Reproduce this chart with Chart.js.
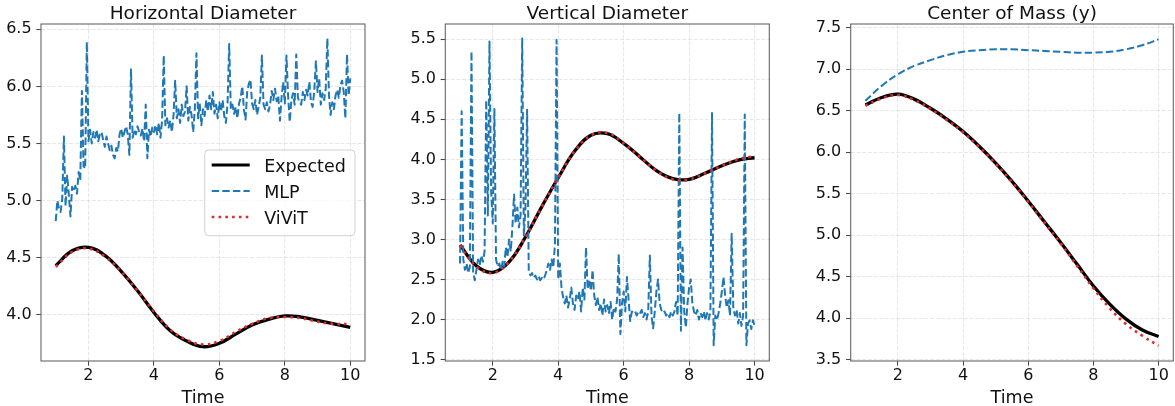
<!DOCTYPE html>
<html><head><meta charset="utf-8">
<script src="https://cdn.jsdelivr.net/npm/chart.js@4.4.1/dist/chart.umd.min.js"></script>
<style>
html,body{margin:0;padding:0;background:#fff;}
#wrap{position:relative;width:1175px;height:406px;overflow:hidden;background:#fff;}
canvas{position:absolute;left:0;top:0;}
</style></head><body>
<div id="wrap">
<canvas id="c1" width="1175" height="406"></canvas>
<canvas id="c2" width="1175" height="406"></canvas>
<canvas id="c3" width="1175" height="406"></canvas>
</div>
<script>
// ---------------- DATA ----------------
const titles = ["Horizontal Diameter", "Vertical Diameter", "Center of Mass (y)"];
const xLabel = "Time";
const legendLabels = ["Expected", "MLP", "ViViT"];
const xTickValues = [2, 4, 6, 8, 10];
const yTicksH = [4.0, 4.5, 5.0, 5.5, 6.0, 6.5];
const yTicksV = [1.5, 2.0, 2.5, 3.0, 3.5, 4.0, 4.5, 5.0, 5.5];
const yTicksC = [3.5, 4.0, 4.5, 5.0, 5.5, 6.0, 6.5, 7.0, 7.5];

const timeSmooth = [1, 1.5, 2, 2.5, 3, 3.5, 4, 4.5, 5, 5.5, 6, 6.5, 7, 7.5, 8, 8.5, 9, 9.5, 10];
const timeNoisy = [
 1.00,1.05,1.10,1.15,1.20,1.25,1.30,1.35,1.40,1.45,1.50,1.55,1.60,1.65,1.70,1.75,1.80,1.85,1.90,1.95,
 2.00,2.05,2.10,2.15,2.20,2.25,2.30,2.35,2.40,2.45,2.50,2.55,2.60,2.65,2.70,2.75,2.80,2.85,2.90,2.95,
 3.00,3.05,3.10,3.15,3.20,3.25,3.30,3.35,3.40,3.45,3.50,3.55,3.60,3.65,3.70,3.75,3.80,3.85,3.90,3.95,
 4.00,4.05,4.10,4.15,4.20,4.25,4.30,4.35,4.40,4.45,4.50,4.55,4.60,4.65,4.70,4.75,4.80,4.85,4.90,4.95,
 5.00,5.05,5.10,5.15,5.20,5.25,5.30,5.35,5.40,5.45,5.50,5.55,5.60,5.65,5.70,5.75,5.80,5.85,5.90,5.95,
 6.00,6.05,6.10,6.15,6.20,6.25,6.30,6.35,6.40,6.45,6.50,6.55,6.60,6.65,6.70,6.75,6.80,6.85,6.90,6.95,
 7.00,7.05,7.10,7.15,7.20,7.25,7.30,7.35,7.40,7.45,7.50,7.55,7.60,7.65,7.70,7.75,7.80,7.85,7.90,7.95,
 8.00,8.05,8.10,8.15,8.20,8.25,8.30,8.35,8.40,8.45,8.50,8.55,8.60,8.65,8.70,8.75,8.80,8.85,8.90,8.95,
 9.00,9.05,9.10,9.15,9.20,9.25,9.30,9.35,9.40,9.45,9.50,9.55,9.60,9.65,9.70,9.75,9.80,9.85,9.90,9.95,10.00
];

// Horizontal Diameter
const hExpected = [4.43,4.56,4.59,4.52,4.38,4.21,4.02,3.86,3.77,3.72,3.75,3.83,3.91,3.96,3.99,3.98,3.95,3.92,3.89];
const hViViT    = [4.42,4.55,4.58,4.51,4.38,4.21,4.03,3.87,3.78,3.74,3.77,3.85,3.92,3.97,3.98,3.97,3.94,3.92,3.92];
const hMLP = [
 4.82,5.00,4.93,4.90,5.02,5.56,4.95,5.22,5.05,4.86,5.12,5.08,5.13,5.06,5.25,5.18,5.96,5.30,5.28,6.39,
 5.52,5.62,5.50,5.60,5.55,5.62,5.52,5.58,5.60,5.53,5.47,5.56,5.50,5.44,5.48,5.40,5.37,5.46,5.43,5.58,
 5.63,5.55,5.60,5.65,5.58,5.40,6.15,5.55,5.62,5.58,5.65,5.60,5.57,5.63,5.52,5.84,5.37,5.62,5.56,5.64,
 5.60,5.66,5.58,5.68,5.55,5.70,6.27,5.66,5.72,5.64,5.70,5.60,5.75,6.05,5.72,5.80,5.68,5.84,5.74,5.78,
 6.00,5.70,5.82,5.75,5.60,5.80,6.29,5.72,5.85,5.66,5.80,5.74,5.88,5.78,5.92,5.80,5.95,5.76,5.84,5.72,
 5.86,5.78,5.88,5.74,5.68,5.85,6.37,5.80,5.84,5.76,5.82,5.72,5.85,5.90,6.00,5.80,5.71,5.95,6.02,6.06,
 5.85,5.80,5.88,5.75,5.82,5.90,6.27,5.84,5.80,5.86,5.78,5.84,5.96,5.88,5.98,5.87,5.92,5.70,5.90,6.04,
 5.85,6.27,5.92,5.69,5.88,5.94,5.84,6.28,5.90,5.86,5.84,5.95,5.88,5.97,5.92,6.04,5.86,5.82,5.96,6.22,
 5.95,6.07,5.84,5.94,5.88,5.98,6.42,5.92,5.75,5.86,5.80,5.92,5.97,5.90,6.01,6.05,5.95,5.72,6.28,5.92,6.07
];

// Vertical Diameter
const vExpected = [2.93,2.67,2.59,2.72,3.03,3.41,3.77,4.10,4.30,4.32,4.20,4.03,3.86,3.76,3.75,3.83,3.92,3.99,4.02];
const vViViT    = [2.92,2.66,2.58,2.72,3.03,3.41,3.77,4.10,4.30,4.33,4.20,4.03,3.86,3.75,3.75,3.83,3.92,4.00,4.04];
const vMLP = [
 2.70,4.60,2.75,2.62,2.70,2.58,2.66,5.35,2.60,2.49,2.62,2.75,2.68,2.80,2.72,2.85,4.74,3.30,5.47,3.60,
 3.20,4.63,2.75,2.66,2.70,2.62,2.72,2.66,2.90,2.78,3.00,2.85,3.15,3.56,3.20,3.40,3.15,3.30,5.51,3.05,
 3.40,4.62,2.61,2.55,2.58,2.52,2.55,2.50,2.54,2.49,2.52,2.50,2.55,2.62,2.70,2.62,2.75,2.65,2.94,5.49,
 2.50,2.70,2.40,2.28,2.20,2.30,2.15,2.25,2.40,2.20,2.12,2.30,2.25,2.35,2.10,2.40,2.25,2.90,2.38,2.50,
 2.36,2.62,2.30,2.18,2.28,2.12,2.20,2.05,2.25,2.10,2.18,2.08,2.22,2.00,2.15,2.10,2.25,2.82,1.82,2.20,
 2.35,2.10,2.53,2.25,1.98,2.10,2.08,2.10,2.05,2.10,2.08,2.12,2.03,2.08,2.00,2.10,2.80,2.05,1.89,2.10,
 2.35,2.50,2.20,2.12,2.08,2.10,2.05,2.08,2.03,2.10,2.05,2.10,2.22,2.05,4.58,1.86,2.90,2.10,1.90,2.20,
 2.40,2.50,2.20,2.10,2.05,2.12,2.00,2.08,2.03,2.10,1.99,2.08,2.00,2.10,4.58,1.68,2.05,1.99,2.08,2.20,
 2.35,2.53,2.30,2.15,2.24,2.05,3.07,2.15,2.05,2.12,1.95,2.08,1.92,2.05,4.56,1.68,1.95,1.99,1.88,1.99,1.92
];

// Center of Mass (y)
const cExpected = [6.57,6.66,6.70,6.64,6.53,6.40,6.25,6.07,5.87,5.65,5.41,5.16,4.91,4.65,4.39,4.17,3.99,3.86,3.78];
const cViViT    = [6.56,6.65,6.69,6.63,6.52,6.39,6.24,6.06,5.86,5.64,5.40,5.15,4.90,4.63,4.36,4.12,3.93,3.79,3.67];
const cMLP      = [6.62,6.80,6.94,7.04,7.11,7.17,7.21,7.23,7.24,7.24,7.23,7.22,7.21,7.20,7.20,7.21,7.24,7.29,7.36];

// ---------------- STYLE ----------------
const FONT = "'DejaVu Sans', 'Liberation Sans', sans-serif";
const COL_EXP = '#000000', COL_MLP = '#1f77b4', COL_VIV = '#e02a2a';
const W_EXP = 3.3, W_MLP = 2.0, W_VIV = 2.6;
const DASH_MLP = [7.4, 3.2], DASH_VIV = [2.6, 4.2];

Chart.defaults.font.family = FONT;
Chart.defaults.color = '#111';

const decor = {
  id: 'decor',
  afterDraw(chart, args, o) {
    const ctx = chart.ctx, a = chart.chartArea;
    ctx.save();
    ctx.setLineDash([]);
    ctx.strokeStyle = '#666';
    ctx.lineWidth = 1.1;
    ctx.strokeRect(a.left, a.top, a.right - a.left, a.bottom - a.top);
    ctx.fillStyle = '#111';
    ctx.textAlign = 'center';
    ctx.textBaseline = 'alphabetic';
    ctx.font = '18.5px ' + FONT;
    ctx.fillText(o.title, (a.left + a.right) / 2, 18.5);
    ctx.font = '17.5px ' + FONT;
    ctx.fillText(o.xlabel, (a.left + a.right) / 2, 402.5);
    if (o.legend) {
      const L = o.legend;
      ctx.beginPath();
      ctx.roundRect(L.x, L.y, L.w, L.h, 4);
      ctx.fillStyle = 'rgba(255,255,255,0.8)';
      ctx.fill();
      ctx.strokeStyle = '#d0d0d0';
      ctx.lineWidth = 1;
      ctx.stroke();
      const styles = [
        {c: COL_EXP, w: 3.2, d: []},
        {c: COL_MLP, w: W_MLP, d: DASH_MLP},
        {c: COL_VIV, w: W_VIV, d: DASH_VIV}
      ];
      legendLabels.forEach((lab, i) => {
        const yy = L.y + 15 + i * 26;
        const s = styles[i];
        ctx.beginPath();
        ctx.setLineDash(s.d);
        ctx.strokeStyle = s.c;
        ctx.lineWidth = s.w;
        ctx.lineCap = 'butt';
        ctx.moveTo(L.x + 7, yy);
        ctx.lineTo(L.x + 45, yy);
        ctx.stroke();
        ctx.setLineDash([]);
        ctx.fillStyle = '#111';
        ctx.textAlign = 'left';
        ctx.font = '17.5px ' + FONT;
        ctx.fillText(lab, L.x + 59.5, yy + 7);
      });
    }
    ctx.restore();
  }
};

function pts(xs, ys) { return xs.map((x, i) => ({x: x, y: ys[i]})); }

function makeChart(id, p) {
  const yAxisW = 40;
  const gridOpts = {color: 'rgba(176,176,176,0.3)', lineWidth: 1.07, drawTicks: true,
                    tickLength: 4.7, tickColor: '#444', tickWidth: 1.0};
  const borderOpts = {display: false, dash: [3.95, 1.7]};
  return new Chart(document.getElementById(id), {
    type: 'line',
    data: {datasets: [
      {data: pts(timeSmooth, p.viv), borderColor: COL_VIV, borderWidth: W_VIV, borderDash: DASH_VIV, tension: 0.4},
      {data: pts(p.mlpX, p.mlp), borderColor: COL_MLP, borderWidth: W_MLP, borderDash: DASH_MLP, tension: p.mlpTension},
      {data: pts(timeSmooth, p.exp), borderColor: COL_EXP, borderWidth: W_EXP, borderDash: [], tension: 0.4}
    ].map(d => Object.assign(d, {pointRadius: 0, fill: false, borderCapStyle: 'butt', borderJoinStyle: 'round'}))},
    options: {
      responsive: false, animation: false, devicePixelRatio: 1,
      layout: {padding: {left: p.area.left - yAxisW, right: 1175 - p.area.right, top: p.area.top, bottom: 0}},
      plugins: {legend: {display: false}, tooltip: {enabled: false}, title: {display: false},
                decor: {title: p.title, xlabel: xLabel, legend: p.legend}},
      scales: {
        x: {type: 'linear', min: 0.55, max: 10.45,
            grid: gridOpts, border: borderOpts,
            afterBuildTicks: s => { s.ticks = xTickValues.map(v => ({value: v})); },
            afterFit: s => { s.height = 406 - p.area.bottom; },
            ticks: {padding: 0.7, font: {size: 16}, color: '#111', autoSkip: false, maxRotation: 0,
                    callback: v => String(v)}},
        y: {type: 'linear', min: p.yMin, max: p.yMax,
            grid: gridOpts, border: borderOpts,
            afterBuildTicks: s => { s.ticks = p.yTicks.map(v => ({value: v})); },
            afterFit: s => { s.width = yAxisW; },
            ticks: {padding: 4.7, font: {size: 16}, color: '#111', autoSkip: false,
                    callback: v => Number(v).toFixed(1)}}
      }
    },
    plugins: [decor]
  });
}

makeChart('c1', {title: titles[0], area: {left: 41, right: 365, top: 24, bottom: 361},
  yMin: 3.595, yMax: 6.546, yTicks: yTicksH, exp: hExpected, viv: hViViT, mlp: hMLP, mlpX: timeNoisy, mlpTension: 0,
  legend: {x: 204.7, y: 150, w: 150.3, h: 85.7}});
makeChart('c2', {title: titles[1], area: {left: 445.3, right: 769.3, top: 24, bottom: 361},
  yMin: 1.482, yMax: 5.69, yTicks: yTicksV, exp: vExpected, viv: vViViT, mlp: vMLP, mlpX: timeNoisy, mlpTension: 0});
makeChart('c3', {title: titles[2], area: {left: 850.7, right: 1173.3, top: 24, bottom: 361},
  yMin: 3.486, yMax: 7.545, yTicks: yTicksC, exp: cExpected, viv: cViViT, mlp: cMLP, mlpX: timeSmooth, mlpTension: 0.4});
</script>
</body></html>
